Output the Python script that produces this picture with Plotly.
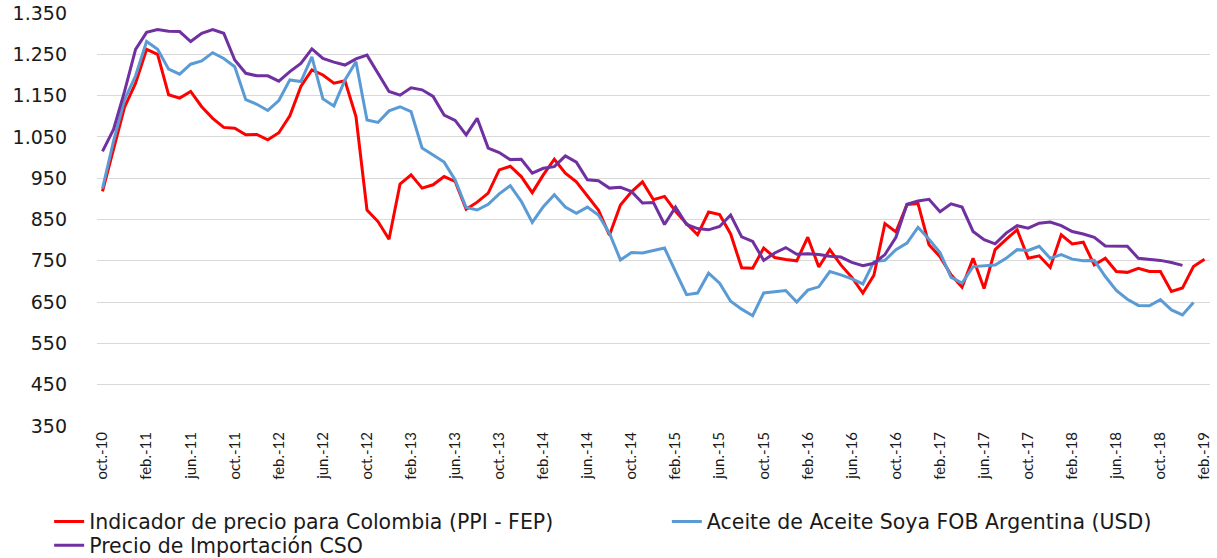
import plotly.graph_objects as go

month_abbr = ["ene.", "feb.", "mar.", "abr.", "may.", "jun.",
              "jul.", "ago.", "sep.", "oct.", "nov.", "dic."]
start_year, start_month, n_months = 2010, 10, 101
categories = []
for k in range(n_months):
    m = (start_month - 1 + k) % 12
    y = start_year + (start_month - 1 + k) // 12
    categories.append(f"{month_abbr[m]}-{str(y)[2:]}")

ppi_fep = [918, 1021, 1122, 1180, 1262, 1250, 1152, 1144, 1160, 1123,
           1095, 1073, 1071, 1055, 1056, 1043, 1060, 1101, 1172, 1212,
           1200, 1180, 1186, 1099, 873, 845, 802, 936, 958, 926,
           934, 954, 942, 875, 892, 914, 970, 979, 954, 915,
           958, 996, 962, 941, 907, 873, 812, 885, 917, 941,
           898, 906, 870, 840, 813, 868, 862, 815, 733, 732,
           781, 758, 753, 750, 807, 735, 777, 740, 710, 672,
           715, 840, 820, 886, 889, 789, 760, 716, 686, 756,
           683, 777, 802, 825, 756, 762, 734, 813, 791, 795,
           740, 756, 724, 722, 732, 724, 724, 676, 684, 736,
           754]

soya_fob = [925, 1040, 1140, 1198, 1281, 1262, 1214, 1202, 1226, 1234,
            1254, 1240, 1220, 1140, 1129, 1114, 1138, 1188, 1184, 1244,
            1142, 1125, 1188, 1232, 1091, 1085, 1113, 1123, 1111, 1023,
            1006, 989, 946, 879, 873, 887, 912, 932, 894, 843,
            881, 910, 880, 865, 880, 861, 817, 752, 770, 769,
            775, 781, 724, 668, 672, 720, 696, 652, 633, 617,
            672, 675, 678, 650, 679, 687, 724, 716, 706, 694,
            748, 751, 777, 793, 831, 802, 770, 710, 696, 736,
            738, 740, 756, 777, 775, 785, 756, 765, 754, 750,
            751, 712, 678, 657, 642, 641, 656, 631, 619, 649,
            None]

cso_import = [1015, 1068, 1160, 1262, 1303, 1310, 1306, 1305, 1281, 1301,
              1310, 1301, 1236, 1204, 1198, 1198, 1185, 1208, 1228, 1263,
              1240, 1231, 1224, 1239, 1248, 1204, 1160, 1151, 1169, 1164,
              1148, 1103, 1090, 1055, 1095, 1023, 1012, 995, 996, 962,
              974, 978, 1004, 989, 946, 944, 926, 928, 918, 890,
              891, 838, 880, 838, 828, 825, 833, 861, 808, 797,
              751, 769, 782, 766, 767, 765, 761, 759, 746, 738,
              744, 765, 807, 887, 895, 899, 869, 888, 880, 821,
              801, 791, 817, 835, 829, 841, 844, 835, 821, 815,
              807, 786, 786, 785, 756, 754, 751, 746, 739, None,
              None]

y_tickvals = [350, 450, 550, 650, 750, 850, 950, 1050, 1150, 1250, 1350]
y_ticktext = ["350", "450", "550", "650", "750", "850", "950",
              "1.050", "1.150", "1.250", "1.350"]
x_tickvals = categories[::4]

names = ["Indicador de precio para Colombia (PPI - FEP)",
         "Aceite de Aceite Soya FOB Argentina (USD)",
         "Precio de Importación CSO"]
colors = ["#ff0000", "#5b9bd5", "#7030a0"]

fig = go.Figure()
fig.add_trace(go.Scatter(x=categories, y=ppi_fep, mode="lines", name=names[0],
                         line=dict(color=colors[0], width=3), legend="legend"))
fig.add_trace(go.Scatter(x=categories, y=soya_fob, mode="lines", name=names[1],
                         line=dict(color=colors[1], width=3), legend="legend2"))
fig.add_trace(go.Scatter(x=categories, y=cso_import, mode="lines", name=names[2],
                         line=dict(color=colors[2], width=3), legend="legend3"))

legend_font = dict(family="DejaVu Sans, sans-serif", size=20.5, color="#1a1a1a")
leg_common = dict(orientation="v", xanchor="left", yanchor="top",
                  font=legend_font, itemwidth=30, bgcolor="rgba(0,0,0,0)")
fig.update_layout(
    width=1217, height=558, autosize=False,
    margin=dict(l=97, r=7, t=13, b=132, autoexpand=False),
    paper_bgcolor="white", plot_bgcolor="white",
    showlegend=True,
    legend=dict(x=-0.043, y=-0.183, **leg_common),
    legend2=dict(x=0.512, y=-0.183, **leg_common),
    legend3=dict(x=-0.043, y=-0.241, **leg_common),
    xaxis=dict(type="category", categoryorder="array", categoryarray=categories,
               range=[-0.5, 100.5], tickmode="array", tickvals=x_tickvals,
               tickangle=-90, showgrid=False, showline=False, ticks="",
               automargin=False, ticklabelstandoff=2,
               tickfont=dict(family="Lato, Liberation Sans, sans-serif", size=15, color="#1a1a1a"),
               zeroline=False),
    yaxis=dict(range=[350, 1350], tickmode="array", tickvals=y_tickvals,
               ticktext=y_ticktext, showgrid=True, gridcolor="#d9d9d9", gridwidth=1,
               zeroline=False, showline=False, ticks="", ticklabelstandoff=29,
               automargin=False,
               tickfont=dict(family="DejaVu Sans, sans-serif", size=19, color="#1a1a1a")),
)

fig.write_html("out.html",
               config={"responsive": False, "displayModeBar": False},
               post_script="document.body.style.margin='0';document.body.style.overflow='hidden';")
